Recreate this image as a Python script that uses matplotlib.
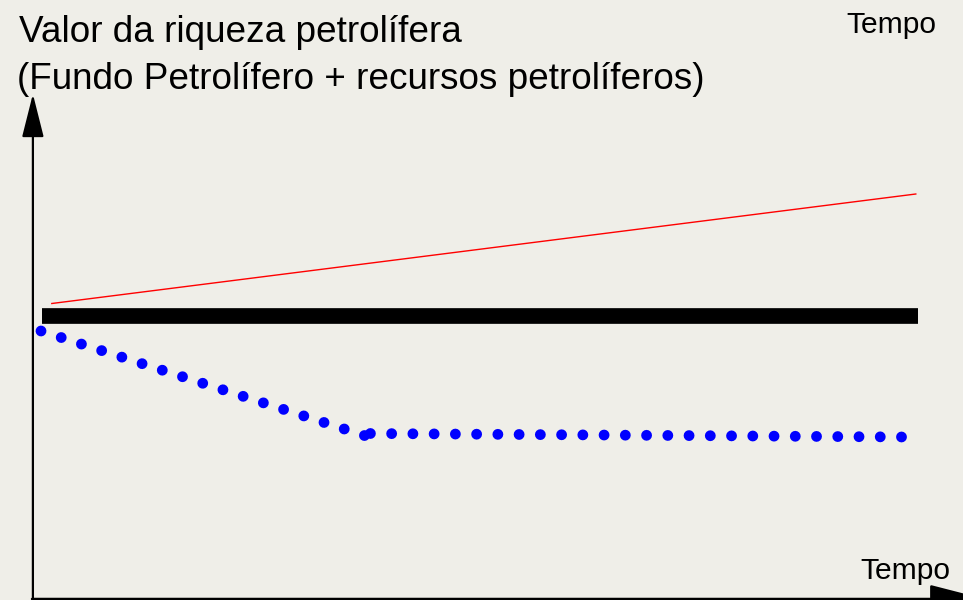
import matplotlib
matplotlib.use("Agg")
import matplotlib.pyplot as plt

# abstract units: tempo 0..100, valor 0..~120 (axis origin at bottom-left)
red_t = [2.2, 98.2]
red_v = [59.1, 81.0]

black_t = [1.1, 98.4]
black_v = [56.6, 56.6]

# dotted blue: two straight pieces (falling, then flat)
blue1_t = [1.0, 37.1]
blue1_v = [53.6, 32.6]
blue2_t = [37.6, 96.9]
blue2_v = [33.1, 32.4]

title1 = "Valor da riqueza petrolífera"
title2 = "(Fundo Petrolífero + recursos petrolíferos)"
xlabel = "Tempo"

bg = "#efeee8"
W, H = 963, 600

fig = plt.figure(figsize=(W / 100, H / 100), dpi=100, facecolor=bg)
ax = fig.add_axes([0, 0, 1, 1])
ax.set_facecolor(bg)
# origin of the drawn axes at pixel (32, 599); 9 px per tempo unit, 5 px per valor unit
ax.set_xlim(-32 / 9, (W - 32) / 9)
ax.set_ylim(-1 / 5, 599 / 5)
ax.axis("off")

ax.plot(red_t, red_v, color="#ff0000", lw=1.0)
ax.plot(black_t, black_v, color="black", lw=11.3, solid_capstyle="butt")

dots = dict(color="#0000ff", lw=7.8, dash_capstyle="round", linestyle=(0, (0.001, 1.96)))
ax.plot(blue1_t, blue1_v, **dots)
ax.plot(blue2_t, blue2_v, **dots)

# axes with arrows
ax.annotate("", xy=(0.1, (599 - 94) / 5), xytext=(0.1, -1), annotation_clip=False,
            arrowprops=dict(arrowstyle="-|>,head_length=2.7,head_width=0.68",
                            lw=1.6, color="black", shrinkA=0, shrinkB=0))
ax.annotate("", xy=((985 - 32) / 9, 0), xytext=(0, 0), annotation_clip=False,
            arrowprops=dict(arrowstyle="-|>,head_length=3.5,head_width=0.9",
                            lw=1.8, color="black", shrinkA=0, shrinkB=0))

font = "Liberation Sans"
fig.text(19 / W, 1 - 42.3 / H, title1, fontsize=26.6, family=font, va="baseline")
fig.text(17 / W, 1 - 89.3 / H, title2, fontsize=26.6, family=font, va="baseline")
fig.text(846 / W, 1 - 33.3 / H, xlabel, fontsize=21.6, family=font, va="baseline")
fig.text(860 / W, 1 - 579.3 / H, xlabel, fontsize=21.6, family=font, va="baseline")

fig.savefig("out.png", dpi=100, facecolor=bg)
